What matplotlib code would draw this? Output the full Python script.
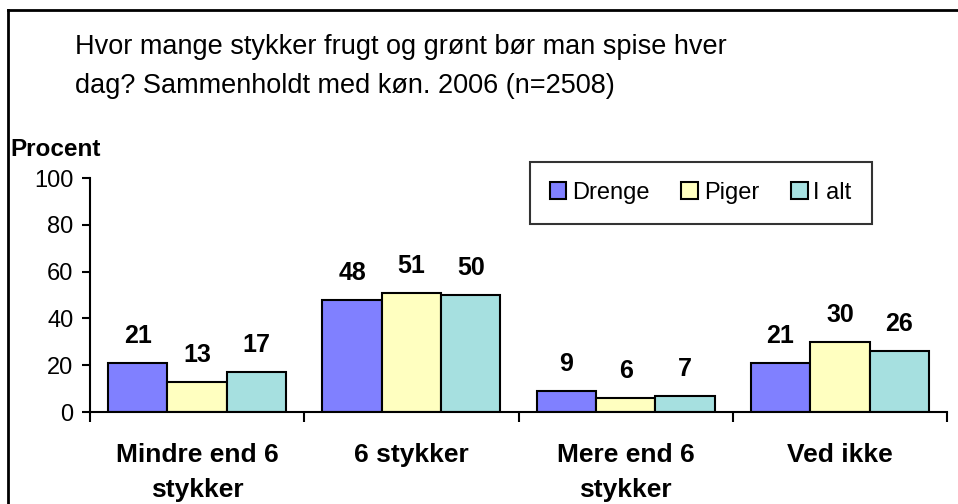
import matplotlib
matplotlib.use("Agg")
import matplotlib.pyplot as plt
import numpy as np
from matplotlib.lines import Line2D

plt.rcParams["font.family"] = ["Liberation Sans", "DejaVu Sans"]

kategorier = ["Mindre end 6\nstykker", "6 stykker", "Mere end 6\nstykker", "Ved ikke"]
serier = ["Drenge", "Piger", "I alt"]
drenge = [21, 48, 9, 21]
piger = [13, 51, 6, 30]
i_alt = [17, 50, 7, 26]
farver = ["#8080ff", "#ffffc0", "#a6e0e0"]

fig = plt.figure(figsize=(9.58, 5.04), dpi=100)
ax = fig.add_axes([0.094, 0.1825, 0.8945, 0.4643])

x = np.arange(len(kategorier))
bredde = 0.277
for i, (navn, vals) in enumerate(zip(serier, [drenge, piger, i_alt])):
    pos = x + (i - 1) * bredde
    ax.bar(pos, vals, width=bredde, color=farver[i], edgecolor="black",
           linewidth=1.5, label=navn)
    for px, v in zip(pos, vals):
        ax.annotate(str(v), (px, v), xytext=(0, 19.5), textcoords="offset points",
                    ha="center", va="center", fontsize=18, fontweight="bold")

ax.set_xlim(-0.5, len(kategorier) - 0.5)
ax.set_ylim(0, 100)
ax.set_yticks(range(0, 101, 20))
ax.tick_params(axis="y", labelsize=17, length=6, width=1.5, direction="out", pad=6)

# tick marks between groups, labels centred under each group
ax.set_xticks(np.arange(-0.5, len(kategorier)), minor=False)
ax.set_xticklabels([])
ax.set_xticks(x, minor=True)
ax.set_xticklabels(kategorier, minor=True, fontsize=19, fontweight="bold",
                   linespacing=1.6)
ax.tick_params(axis="x", which="major", length=7, width=1.5, direction="out")
ax.tick_params(axis="x", which="minor", length=0, pad=22)

for s in ["top", "right"]:
    ax.spines[s].set_visible(False)
for s in ["left", "bottom"]:
    ax.spines[s].set_linewidth(1.5)

leg = fig.legend(*ax.get_legend_handles_labels(), loc="upper right",
                 bbox_to_anchor=(0.910, 0.679), ncol=3,
                 fontsize=17, frameon=True, fancybox=False, edgecolor="black",
                 handlelength=0.7, handleheight=0.7, handletextpad=0.25,
                 columnspacing=1.35, borderpad=0.85, borderaxespad=0)
leg.get_frame().set_linewidth(1.5)

fig.text(0.078, 0.869, "Hvor mange stykker frugt og grønt bør man spise hver\n"
         "dag? Sammenholdt med køn. 2006 (n=2508)",
         ha="left", va="center", fontsize=19.5, linespacing=1.65)
fig.text(0.011, 0.703, "Procent", ha="left", va="center", fontsize=17.5,
         fontweight="bold")

# outer frame (top and left edge)
fig.add_artist(Line2D([0.0085, 0.0085], [0, 0.98], transform=fig.transFigure,
                      color="black", linewidth=2))
fig.add_artist(Line2D([0.0085, 1.0], [0.98, 0.98], transform=fig.transFigure,
                      color="black", linewidth=2))

fig.savefig("out.png", dpi=100, facecolor="white")
